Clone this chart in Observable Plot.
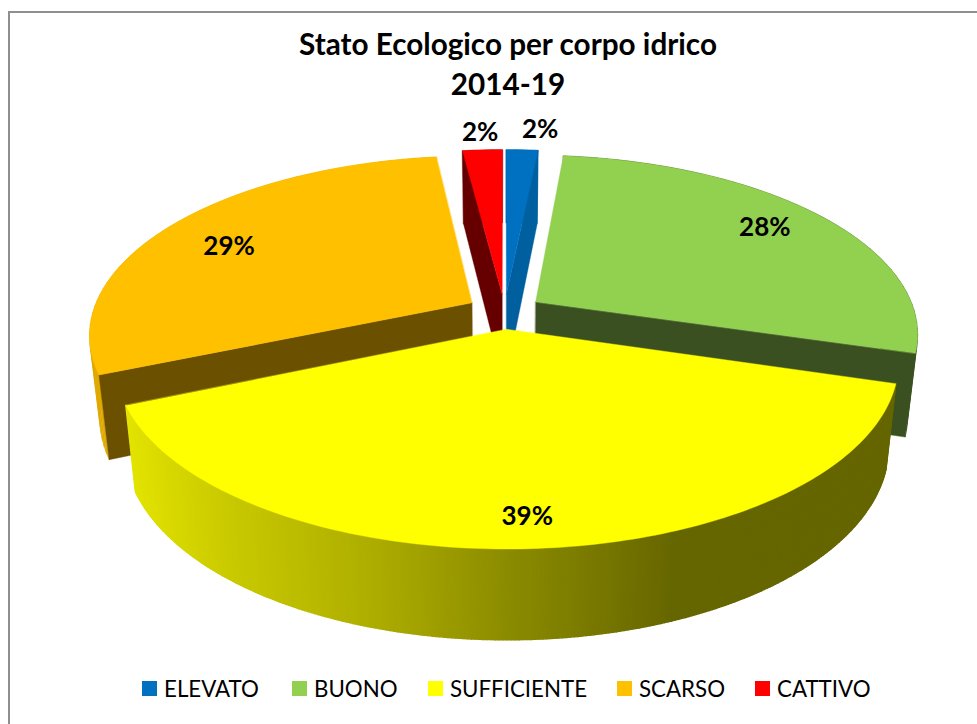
<!DOCTYPE html>
<html>
<head>
<meta charset="utf-8">
<script src="https://cdn.jsdelivr.net/npm/d3@7"></script>
<script src="https://cdn.jsdelivr.net/npm/@observablehq/plot@0.6"></script>
<style>
  html, body { margin: 0; padding: 0; width: 977px; height: 724px; overflow: hidden; background: #fff; }
  #frame { position: absolute; left: 8px; top: 11px; width: 1100px; height: 800px;
           border-left: 2px solid #8f8f8f; border-top: 2px solid #8f8f8f; }
  #title { position: absolute; left: 0; top: 24px; width: 1016px; height: 81px; text-align: center;
           font: 700 29.7px/40px Lato, sans-serif; color: #000; }
  #chart { position: absolute; left: 0; top: 105px; width: 977px; height: 560px; }
  #chart svg { display: block; }
  #legend { position: absolute; left: 0; top: 665px; width: 977px; height: 48px; }
  #legend .item { position: absolute; top: 9px; display: block; height: 30px;
                  font: 400 22.3px/30px Lato, sans-serif; color: #000; white-space: nowrap; }
  #legend .sw { position: absolute; left: -22px; top: 7px; width: 15px; height: 15px; }
</style>
</head>
<body>
<div id="frame"></div>
<div id="title">Stato Ecologico per corpo idrico<br>2014-19</div>
<div id="chart"></div>
<div id="legend"></div>
<script>
// Data
const categories = ["ELEVATO", "BUONO", "SUFFICIENTE", "SCARSO", "CATTIVO"];
const shares = [1.6, 28.0, 39.0, 29.4, 2.0];
const sliceColors = ["#0070c0", "#92d050", "#ffff00", "#ffc000", "#ff0000"];
const wallColors = ["#005f9e", "#3b5021", null, "#6b5000", "#660000"];
const rimColors = ["#005f9e", "#3b5021", null, "#e0a800", "#660000"];
const legendLeft = [164, 314, 450, 639, 777];

// View of the 3D pie
const width = 977, height = 560;
const pxPerU = 379, pxPerV = 175, centerPx = 504, centerPy = 206;
const eye = 5.8, explode = 0.1, bottomShrink = 0.975;
const labelRadius = [1.27, 0.915, 0.975, 0.87, 1.24];
const labelTurn = [2.3, -1.2, 0.3, -3, 0];
const rad = d => d * Math.PI / 180;

function project(u, v, low) {
  const s = eye / (eye + v);
  let x = u * s, y = v * s;
  if (low) { x *= bottomShrink; y -= (82 - 8 * v) / pxPerV; }
  return {x, y};
}

const total = d3.sum(shares);
let acc = 0;
const slices = shares.map((s, i) => {
  const a0 = acc / total * 360; acc += s;
  const a1 = acc / total * 360;
  const m = (a0 + a1) / 2;
  return {i, a0, a1, m, ox: explode * Math.sin(rad(m)), oy: explode * Math.cos(rad(m))};
});
const rimPoint = (sl, a, low) => project(sl.ox + Math.sin(rad(a)), sl.oy + Math.cos(rad(a)), low);
const apexPoint = (sl, low) => project(sl.ox, sl.oy, low);
const arcAngles = (a0, a1, step = 1) => {
  const n = Math.max(2, Math.ceil((a1 - a0) / step));
  return d3.range(n + 1).map(k => a0 + (a1 - a0) * k / n);
};

// Lit wall of the front slice: bright on the left, dark on the right
const yellowLevel = d3.scaleLinear().domain([-1, -0.75, -0.35, 0, 0.44]).range([0.9, 0.8, 0.68, 0.55, 0.4]).clamp(true);
const yellowAt = x => { const l = Math.round(255 * yellowLevel(x)); return `rgb(${l},${l},0)`; };

function makePolys() {
  let pid = 0;
  const polys = [];
  polys.add = (pts, color) => { const id = pid++; pts.forEach(p => polys.push({...p, id, color})); };
  return polys;
}
function addRim(target, sl, colorOf, step) {
  d3.pairs(arcAngles(sl.a0, sl.a1, step)).forEach(([p, q]) => {
    const a = rimPoint(sl, p, false), b = rimPoint(sl, q, false), c = rimPoint(sl, q, true), d = rimPoint(sl, p, true);
    target.add([a, b, c, d], colorOf((c.x + d.x) / 2));
  });
}
function addEndWall(target, sl, a, color) {
  target.add([apexPoint(sl, false), rimPoint(sl, a, false), rimPoint(sl, a, true), apexPoint(sl, true)], color);
}
function addFace(target, sl) {
  target.add([apexPoint(sl, false), ...arcAngles(sl.a0, sl.a1).map(a => rimPoint(sl, a, false))], sliceColors[sl.i]);
}

// paint order: back slices first, the front slice last
const backPolys = makePolys(), frontWall = makePolys(), frontFace = makePolys();
const wallEdge = [slices[0].a1, slices[1].a1, null, slices[3].a0, slices[4].a0];
[4, 0, 3, 1].forEach(i => {
  const sl = slices[i];
  addRim(backPolys, sl, () => rimColors[i], 2);
  addEndWall(backPolys, sl, wallEdge[i], wallColors[i]);
  addFace(backPolys, sl);
});
addRim(frontWall, slices[2], yellowAt, 0.5);
addFace(frontFace, slices[2]);

const labels = slices.map(sl => {
  const r = labelRadius[sl.i], a = rad(sl.m + labelTurn[sl.i]);
  return {...project(r * Math.sin(a), r * Math.cos(a), false), text: Math.round(shares[sl.i]) + "%"};
});

const polyMark = (data, strokeWidth) => Plot.line(data, {
  x: "x", y: "y", z: "id", fill: "color", stroke: "color", strokeWidth, curve: "linear-closed"
});

const plot = Plot.plot({
  width, height,
  margin: 0,
  x: {domain: [-centerPx / pxPerU, (width - centerPx) / pxPerU], axis: null},
  y: {domain: [-(height - centerPy) / pxPerV, centerPy / pxPerV], axis: null},
  color: {type: "identity"},
  style: {background: "transparent"},
  marks: [
    polyMark(backPolys, 0.4),
    polyMark(frontWall, 1.4),
    polyMark(frontFace, 0.4),
    Plot.text(labels, {x: "x", y: "y", text: "text", fontSize: 26, fontWeight: 700, fontFamily: "Lato, sans-serif", fill: "#000"})
  ]
});
document.getElementById("chart").appendChild(plot);

const legend = document.getElementById("legend");
categories.forEach((c, i) => {
  const item = document.createElement("span");
  item.className = "item";
  item.style.left = legendLeft[i] + "px";
  const sw = document.createElement("span");
  sw.className = "sw";
  sw.style.background = sliceColors[i];
  item.appendChild(sw);
  item.appendChild(document.createTextNode(c));
  legend.appendChild(item);
});
</script>
</body>
</html>
